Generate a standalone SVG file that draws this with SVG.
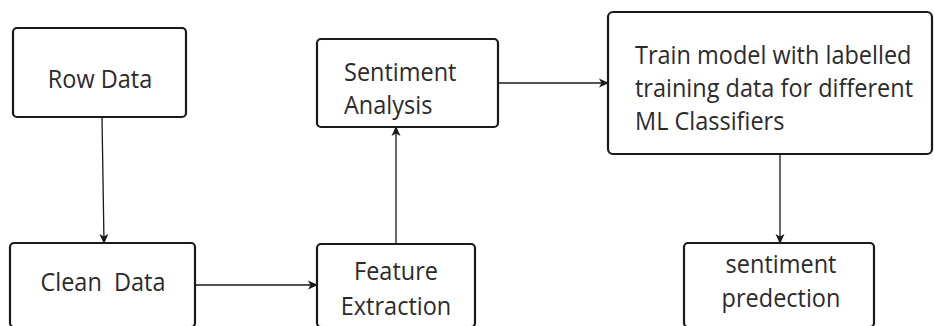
<svg xmlns="http://www.w3.org/2000/svg" width="935" height="326" viewBox="0 0 935 326">
<style>
.box{fill:#fff;stroke:#1a1a1a;stroke-width:2.2}
.t{font-family:"Open Sans","Noto Sans",sans-serif;font-size:23.5px;fill:#2b2b2b}
.c{text-anchor:middle}
.edge{stroke:#1a1a1a;stroke-width:1.3;fill:none}
</style>
<defs>
<marker id="ah" viewBox="0 0 10 10" refX="9" refY="5" markerWidth="10" markerHeight="10" markerUnits="userSpaceOnUse" orient="auto">
<path d="M0,0.5 L10,5 L0,9.5 L2.5,5 Z" fill="#1a1a1a"/>
</marker>
</defs>
<rect width="935" height="326" fill="#fff"/>
<g id="edges">
<line class="edge" x1="102" y1="117" x2="104" y2="243" marker-end="url(#ah)"/>
<line class="edge" x1="195" y1="285" x2="317" y2="285" marker-end="url(#ah)"/>
<line class="edge" x1="396" y1="244" x2="396" y2="127" marker-end="url(#ah)"/>
<line class="edge" x1="498" y1="83" x2="608" y2="83" marker-end="url(#ah)"/>
<line class="edge" x1="780" y1="154" x2="780" y2="243" marker-end="url(#ah)"/>
</g>
<g id="row-data">
<rect class="box" x="13" y="28" width="173" height="89" rx="4"/>
<text class="t c" transform="translate(100,88) scale(1,1.12)">Row Data</text>
</g>
<g id="clean-data">
<rect class="box" x="10" y="243" width="185" height="84" rx="4"/>
<text class="t c" xml:space="preserve" transform="translate(103,291) scale(1,1.12)">Clean  Data</text>
</g>
<g id="feature-extraction">
<rect class="box" x="317" y="244" width="158" height="83" rx="4"/>
<text class="t c" transform="translate(396,280) scale(1,1.12)"><tspan x="0" y="0">Feature</tspan><tspan x="0" y="31">Extraction</tspan></text>
</g>
<g id="sentiment-analysis">
<rect class="box" x="317" y="39" width="181" height="88" rx="4"/>
<text class="t" transform="translate(344,81) scale(1,1.12)"><tspan x="0" y="0">Sentiment</tspan><tspan x="0" y="29.5">Analysis</tspan></text>
</g>
<g id="train-model">
<rect class="box" x="608" y="12" width="324" height="142" rx="5"/>
<text class="t" transform="translate(635,64) scale(1,1.12)"><tspan x="0" y="0">Train model with labelled</tspan><tspan x="0" y="29.5">training data for different</tspan><tspan x="0" y="59">ML Classifiers</tspan></text>
</g>
<g id="sentiment-prediction">
<rect class="box" x="684" y="243" width="190" height="84" rx="4"/>
<text class="t c" transform="translate(781,273) scale(1,1.12)"><tspan x="0" y="0">sentiment</tspan><tspan x="0" y="30">predection</tspan></text>
</g>
</svg>
